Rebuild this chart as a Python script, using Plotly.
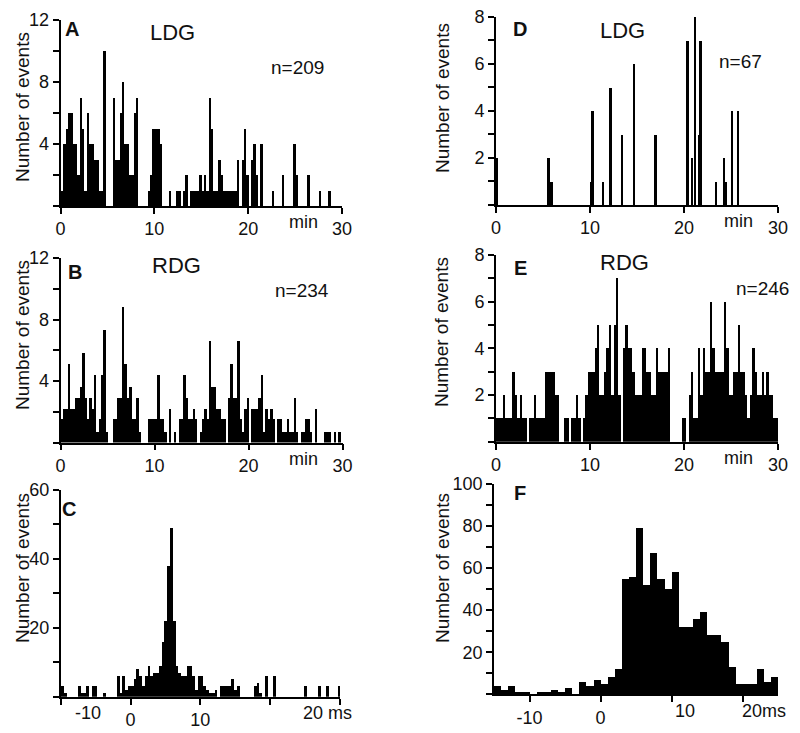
import plotly.graph_objects as go

# The page body adds an 8 px margin, so the figure is drawn 8 px smaller and
# every reference pixel position is shifted by that offset.
OFF = 8
W, H = 800 - OFF, 733 - OFF

# ---------------- data ----------------
# A: LDG, counts per 0.25-min bin, 0..30 min
A_bin = 0.25
A_counts = [1, 4, 5, 6, 6, 4, 4, 2, 7, 5, 1, 6, 4, 4, 3, 3, 1, 1, 10, 0,
            0, 0, 7, 3, 3, 6, 8, 4, 4, 2, 2, 6, 7, 0, 0, 0, 0, 1, 2, 5,
            5, 5, 4, 0, 0, 0, 1, 0, 0, 1, 1, 0, 1, 2, 0, 1, 1, 1, 1, 2,
            1, 2, 1, 7, 5, 1, 1, 3, 2, 1, 1, 1, 1, 1, 1, 3, 0, 3, 5, 2,
            0, 3, 4, 2, 0, 4, 0, 0, 0, 0, 1, 0, 0, 0, 2, 0, 0, 0, 0, 4,
            2, 0, 0, 0, 0, 2, 0, 0, 0, 0, 1, 0, 0, 0, 1, 0, 0, 0, 0, 0]

# B: RDG (first animal), bar heights read in axis units, 0.25-min bins
B_bin = 0.25
B_counts = [1.5, 2.2, 2.2, 5.1, 2.2, 2.2, 2.9, 2.9, 3.6, 5.8,
            2.9, 1.5, 2.9, 2.2, 4.4, 0.7, 1.5, 4.4, 7.3, 0.7,
            0, 0, 1.5, 1.5, 2.9, 2.9, 8.8, 5.1, 2.9, 3.6,
            1.5, 1.5, 2.9, 0.7, 0, 0, 0, 1.5, 1.5, 1.5,
            1.5, 4.4, 1.5, 1.5, 0.7, 0, 2.2, 0, 0.7, 0,
            1.5, 1.5, 4.4, 2.9, 1.5, 1.5, 2.2, 1.5, 0, 0.7,
            1.5, 2.2, 1.5, 6.6, 3.6, 3.6, 2.2, 2.2, 1.5, 1.5,
            0, 2.9, 5.1, 2.9, 2.9, 6.6, 1.5, 0.7, 2.2, 2.9,
            0, 2.2, 2.2, 2.2, 2.9, 4.4, 0.7, 2.2, 1.5, 2.2,
            1.5, 0, 1.5, 1.5, 0.7, 0.7, 1.5, 0.7, 0.7, 2.9,
            0.7, 0, 0.7, 0.7, 1.5, 1.5, 0.7, 0, 2.2, 0,
            0, 0, 0.7, 0.7, 0.7, 0, 0.7, 0, 0.7, 0]

# C: cross-correlation (ms), 0.4-ms bins starting at -10 ms
C_start, C_bin = -10.0, 0.4
C_counts = [3, 1, 0, 0, 0, 0, 3, 1, 1, 3,
            0, 3, 3, 0, 0, 1, 0, 0, 0, 0,
            6, 1, 6, 2, 3, 3, 5, 8, 6, 3,
            6, 9, 6, 7, 7, 9, 16, 22, 38, 49,
            22, 9, 7, 6, 6, 9, 9, 6, 2, 6,
            6, 3, 2, 1, 1, 2, 0, 3, 3, 3,
            3, 5, 2, 3, 0, 0, 0, 0, 0, 3,
            4, 1, 0, 6, 0, 0, 6, 0, 0, 0,
            0, 0, 0, 0, 0, 0, 0, 3, 0, 0,
            0, 0, 3, 0, 0, 3, 0, 0, 0, 3]

# D: LDG (second animal), sparse 0.2-min bins: bin start times and counts
D_bin = 0.2
D_times = [0.0, 5.5, 5.7, 5.9, 10.0, 10.2, 11.3, 12.1, 13.3, 14.6, 16.9,
           20.3, 20.8, 21.1, 21.5, 21.7, 23.3, 24.2, 24.4, 25.0, 25.7]
D_counts = [2, 2, 1, 1, 1, 4, 1, 5, 3, 6, 3,
            7, 2, 8, 3, 7, 1, 2, 1, 4, 4]

# E: RDG (second animal), 0.25-min bins
E_bin = 0.25
E_counts = [1, 1, 1, 2, 1, 1, 1, 3, 2, 1,
            2, 1, 1, 0, 1, 1, 2, 1, 1, 1,
            1, 3, 3, 3, 3, 2, 2, 0, 0, 1,
            1, 0, 1, 1, 2, 1, 0, 1, 2, 3,
            3, 3, 4, 5, 2, 2, 3, 4, 5, 2,
            5, 7, 2, 0, 4, 5, 4, 4, 3, 2,
            2, 2, 4, 4, 3, 3, 2, 2, 4, 3,
            3, 3, 3, 4, 0, 0, 0, 0, 0, 1,
            1, 0, 2, 3, 1, 1, 4, 2, 4, 3,
            3, 6, 4, 3, 3, 3, 3, 6, 4, 2,
            2, 3, 3, 5, 3, 3, 2, 1, 2, 4,
            3, 2, 2, 3, 2, 3, 2, 2, 1, 1]

# F: cross-correlation (ms), 1-ms bins from -15 ms
F_start, F_bin = -15.0, 1.0
F_counts = [4, 2, 4, 1, 1, 0, 1, 1, 2, 1, 3, 0, 6, 4, 7, 5, 8, 12, 55, 56,
            79, 52, 67, 55, 50, 58, 32, 32, 36, 39, 28, 28, 25, 13, 5, 5, 5, 12, 6, 8]

# ---------------- figure ----------------
FONT = "Liberation Sans, Arial, sans-serif"
fig = go.Figure()


def centers(start, width, n):
    return [start + (i + 0.5) * width for i in range(n)]


def add_hist(xs, ys, width, idx):
    sfx = "" if idx == 1 else str(idx)
    fig.add_trace(go.Bar(x=xs, y=ys, width=width, marker=dict(color="black", line=dict(width=0)),
                         xaxis="x" + sfx, yaxis="y" + sfx, showlegend=False, hoverinfo="skip"))


add_hist(centers(0, A_bin, len(A_counts)), A_counts, A_bin, 1)
add_hist(centers(0, B_bin, len(B_counts)), B_counts, B_bin, 2)
add_hist(centers(C_start, C_bin, len(C_counts)), C_counts, C_bin, 3)
add_hist([t + D_bin / 2 for t in D_times], D_counts, D_bin, 4)
add_hist(centers(0, E_bin, len(E_counts)), E_counts, E_bin, 5)
add_hist(centers(F_start, F_bin, len(F_counts)), F_counts, F_bin, 6)

base = dict(showline=True, linecolor="black", linewidth=1.6, ticks="outside", ticklen=6,
            tickwidth=1.5, tickcolor="black", showgrid=False, zeroline=False, automargin=False,
            ticklabeloverflow="allow",
            tickfont=dict(family=FONT, size=18, color="#111"), fixedrange=True)


def xd(a, b):
    return [(a - OFF) / W, (b - OFF) / W]


def yd(top, bot):
    return [1 - (bot - OFF) / H, 1 - (top - OFF) / H]


def lab(vals, shown):
    return [str(v) if v in shown else "" for v in vals]


minute_ticks = [0, 10, 20, 30]
minute_text = [str(v) for v in minute_ticks]
y12 = list(range(0, 13, 2))
y8 = list(range(0, 9))
y60 = list(range(0, 61, 10))
y100 = list(range(0, 101, 10))

panels = [
    # idx, xdomain, ydomain, xrange, yrange, xticks, xtext, yticks, ytext
    (1, xd(60.5, 342), yd(20, 206), [0, 30], [0, 12], minute_ticks, minute_text, y12, lab(y12, [4, 8, 12])),
    (2, xd(60.5, 342.5), yd(258, 442.5), [0, 30], [0, 12], minute_ticks, minute_text, y12, lab(y12, [4, 8, 12])),
    (3, xd(60.7, 340), yd(490, 696.7), [-10, 30], [0, 60], [-10, 0, 10, 20, 30], ["", "0", "10", "", ""], y60, lab(y60, [20, 40, 60])),
    (4, xd(496, 778), yd(16.7, 205), [0, 30], [0, 8], minute_ticks, minute_text, y8, lab(y8, [2, 4, 6, 8])),
    (5, xd(496, 778), yd(255, 441.7), [0, 30], [0, 8], minute_ticks, minute_text, y8, lab(y8, [2, 4, 6, 8])),
    (6, xd(494, 778.3), yd(484, 694.3), [-15, 25], [0, 100], [-10, 0, 10, 20], ["-10", "0", "", ""], y100, lab(y100, [20, 40, 60, 80, 100])),
]

layout = dict(width=W, height=H, margin=dict(l=0, r=0, t=0, b=0, pad=0), paper_bgcolor="white",
              plot_bgcolor="white", bargap=0, barmode="overlay", showlegend=False,
              template="none")
for idx, xdom, ydom, xr, yr, xt, xtt, yt, ytt in panels:
    sfx = "" if idx == 1 else str(idx)
    layout["xaxis" + sfx] = dict(base, domain=xdom, range=xr, tickvals=xt, ticktext=xtt,
                                 anchor="y" + sfx)
    layout["yaxis" + sfx] = dict(base, domain=ydom, range=yr, tickvals=yt, ticktext=ytt,
                                 anchor="x" + sfx)
fig.update_layout(**layout)


def note(text, x, y, size=18, bold=False, angle=0):
    fig.add_annotation(text=("<b>%s</b>" % text) if bold else text,
                       x=(x - OFF) / W, y=1 - (y - OFF) / H,
                       xref="paper", yref="paper", showarrow=False, textangle=angle,
                       xanchor="center", yanchor="middle",
                       font=dict(family=FONT, size=size, color="#111"))


# y-axis titles
for (x, y) in [(22, 107), (22, 335), (22, 568), (442, 98), (442, 332), (442, 568)]:
    note("Number of events", x, y, size=19, angle=-90)

# panel letters
for t, x, y in [("A", 72, 29), ("B", 75, 272), ("C", 69, 509), ("D", 520, 29), ("E", 520, 268), ("F", 520, 493)]:
    note(t, x, y, size=20, bold=True)

# region labels and n
for t, x, y in [("LDG", 172, 32), ("RDG", 176, 265), ("LDG", 622, 30), ("RDG", 624, 262)]:
    note(t, x, y, size=22)
for t, x, y in [("n=209", 297, 68), ("n=234", 302, 290), ("n=67", 740, 62), ("n=246", 762, 289)]:
    note(t, x, y, size=19)

# unit labels and displaced tick labels on the x axes
for t, x, y in [("min", 303, 222), ("min", 303, 459), ("min", 738, 221), ("min", 738, 458),
                ("-10", 88, 713), ("20 ms", 327, 713), ("10", 685, 711), ("20ms", 764, 711)]:
    note(t, x, y, size=18)

fig.write_html("out.html")
